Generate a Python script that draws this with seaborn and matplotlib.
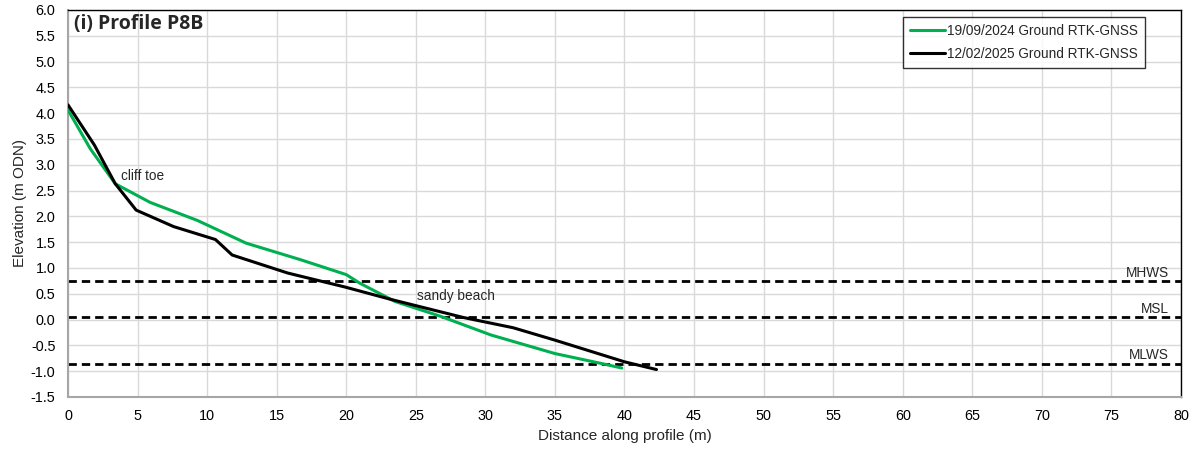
import matplotlib
matplotlib.use("Agg")
import matplotlib.pyplot as plt
import seaborn as sns
import pandas as pd

# Survey data
green_x = [0, 1.6, 3.4, 5.9, 9.3, 12.8, 16.7, 20.0, 21.0, 23.5, 26.8, 30.4, 35.0, 38.3, 39.8]
green_y = [4.06, 3.31, 2.63, 2.27, 1.92, 1.48, 1.16, 0.87, 0.70, 0.35, 0.06, -0.30, -0.66, -0.85, -0.94]
black_x = [0, 1.9, 3.4, 4.9, 7.6, 10.6, 11.8, 15.8, 19.9, 23.2, 28.4, 32.0, 35.0, 40.0, 42.3]
black_y = [4.16, 3.38, 2.63, 2.12, 1.80, 1.55, 1.25, 0.90, 0.63, 0.39, 0.04, -0.16, -0.40, -0.82, -0.97]
series_names = ["19/09/2024 Ground RTK-GNSS", "12/02/2025 Ground RTK-GNSS"]
tide_names = ["MHWS", "MSL", "MLWS"]
tide_levels = [0.74, 0.04, -0.86]
x_ticks = list(range(0, 85, 5))
y_ticks = [-1.5 + 0.5 * i for i in range(16)]

df = pd.concat([
    pd.DataFrame({"x": green_x, "y": green_y, "series": series_names[0]}),
    pd.DataFrame({"x": black_x, "y": black_y, "series": series_names[1]}),
])

sns.set_theme(style="white")
plt.rcParams["font.family"] = ["Liberation Sans", "DejaVu Sans"]

fig = plt.figure(figsize=(11.99, 4.5), dpi=100)
ax = fig.add_axes([0.0567, 0.118, 0.9283, 0.860])

for lvl in tide_levels:
    ax.axhline(lvl, color="black", lw=2, linestyle=(0, (3, 1.8)), zorder=2)

sns.lineplot(data=df, x="x", y="y", hue="series", sort=False, estimator=None,
             palette={series_names[0]: "#00b050", series_names[1]: "black"},
             lw=2.2, ax=ax, zorder=3)

ax.set_xlim(0, 80)
ax.set_ylim(-1.5, 6.0)
ax.set_xticks(x_ticks)
ax.set_yticks(y_ticks)
ax.set_yticklabels([f"{v:.1f}" for v in y_ticks])
ax.tick_params(axis="both", length=0, labelsize=10.4, colors="black")
ax.tick_params(axis="x", pad=9)
ax.tick_params(axis="y", pad=9)
ax.grid(True, color="#d9d9d9", lw=1)
ax.set_axisbelow(True)

for s in ["top", "right"]:
    ax.spines[s].set_color("black")
    ax.spines[s].set_linewidth(1)
for s in ["left", "bottom"]:
    ax.spines[s].set_color("#a6a6a6")
    ax.spines[s].set_linewidth(1.5)

ax.set_xlabel("Distance along profile (m)", fontsize=11, labelpad=4)
ax.set_ylabel("Elevation (m ODN)", fontsize=11, labelpad=3)

for name, lvl in zip(tide_names, tide_levels):
    ax.text(79.15, lvl + 0.03, name, ha="right", va="bottom", fontsize=9.8)

ax.text(3.8, 2.79, "cliff toe", ha="left", va="center", fontsize=9.8)
ax.text(25.05, 0.46, "sandy beach", ha="left", va="center", fontsize=9.8)

ax.text(0.4, 5.92, "(i) Profile P8B", ha="left", va="top", fontsize=14,
        fontweight="bold", family=["Open Sans", "DejaVu Sans"])

leg = ax.legend(loc="upper right", bbox_to_anchor=(0.9677, 0.981), fontsize=9.8,
                frameon=True, fancybox=False, handlelength=2.55, handletextpad=0.2,
                borderpad=0.5, labelspacing=0.65, borderaxespad=0)
leg.get_frame().set_edgecolor("black")
leg.get_frame().set_linewidth(1)
leg.set_title(None)

fig.savefig("out.png", dpi=100)
